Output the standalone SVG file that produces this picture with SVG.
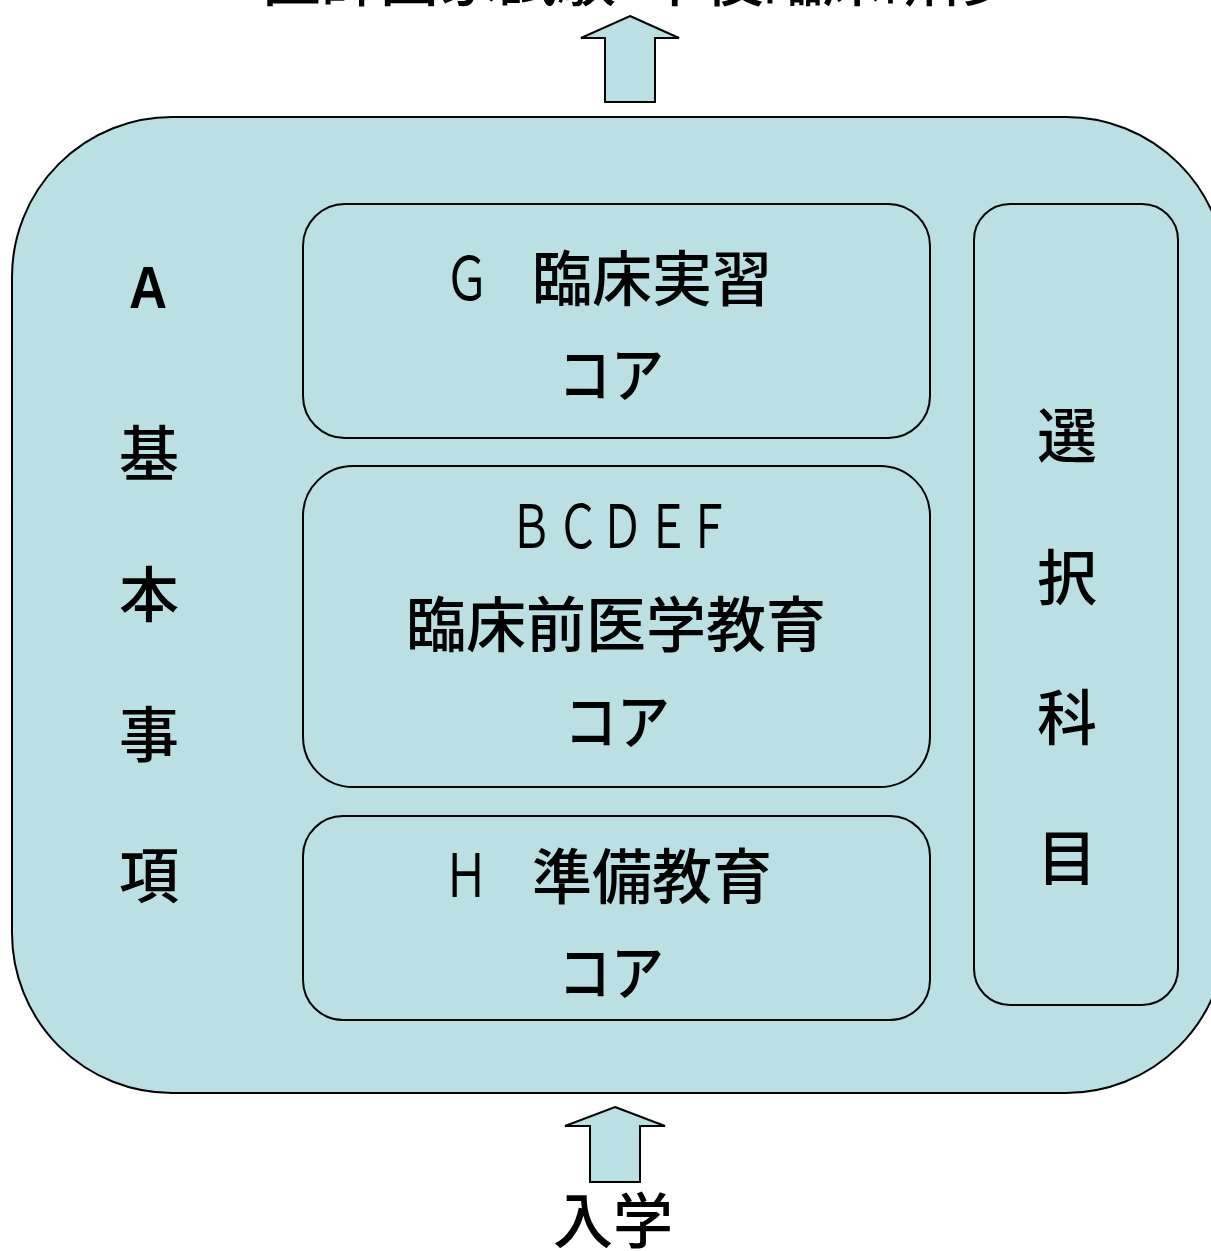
<svg xmlns="http://www.w3.org/2000/svg" width="1211" height="1251" viewBox="0 0 1211 1251">
<style>
  .box { fill: #BAE0E3; stroke: #000; stroke-width: 2; }
  .inner { fill: #BAE0E3; stroke: #000; stroke-width: 2; }
  .arrow { fill: #BAE0E3; stroke: #000; stroke-width: 2; stroke-linejoin: miter; }
  .t { font-family: "Noto Sans CJK JP", "Noto Sans", sans-serif; font-size: 60px; font-weight: 500; fill: #000; }
  .mid { text-anchor: middle; }
  .lat { font-family: "Noto Sans CJK JP", "Noto Sans", sans-serif; font-size: 60px; font-weight: 400; fill: #000; text-anchor: middle; }
  .a { font-family: "Liberation Sans", "Noto Sans CJK JP", sans-serif; font-size: 60px; font-weight: bold; fill: #000; text-anchor: middle; }
</style>
<rect width="1211" height="1251" fill="#fff"/>

<g id="top-label">
  <text class="t" x="262" y="1" style="font-size:59px">医師国家試験･卒後臨床研修</text>
</g>

<g id="outer">
  <rect class="box" x="12" y="117" width="1214" height="976" rx="160" ry="160"/>
</g>

<g id="connectors">
  <path class="arrow" d="M630,16 L679,38 L655,38 L655,102 L605,102 L605,38 L581,38 Z"/>
  <path class="arrow" d="M615,1107 L665,1126 L640,1126 L640,1182 L590,1182 L590,1126 L565,1126 Z"/>
</g>

<g id="node-A">
  <text class="a" transform="translate(148,308) scale(0.88,1)">A</text>
  <text class="t mid" x="149" y="476">基</text>
  <text class="t mid" x="149" y="617">本</text>
  <text class="t mid" x="149" y="757">事</text>
  <text class="t mid" x="149" y="898">項</text>
</g>

<g id="node-G">
  <rect class="inner" x="303" y="204" width="627" height="234" rx="42" ry="42"/>
  <text class="lat" transform="translate(467,300) scale(0.75,1)">Ｇ</text>
  <text class="t" x="532" y="301">臨床実習</text>
  <text class="t mid" transform="translate(611,397) scale(0.88,1)">コア</text>
</g>

<g id="node-BCDEF">
  <rect class="inner" x="303" y="466" width="627" height="321" rx="50" ry="50"/>
  <text class="lat" transform="translate(531,548) scale(0.72,1)">Ｂ</text>
  <text class="lat" transform="translate(578,548) scale(0.72,1)">Ｃ</text>
  <text class="lat" transform="translate(622,548) scale(0.72,1)">Ｄ</text>
  <text class="lat" transform="translate(668,548) scale(0.72,1)">Ｅ</text>
  <text class="lat" transform="translate(709,548) scale(0.72,1)">Ｆ</text>
  <text class="t mid" x="616" y="647">臨床前医学教育</text>
  <text class="t mid" transform="translate(617,744) scale(0.88,1)">コア</text>
</g>

<g id="node-H">
  <rect class="inner" x="303" y="816" width="627" height="204" rx="40" ry="40"/>
  <text class="lat" transform="translate(466,897) scale(0.75,1)">Ｈ</text>
  <text class="t" x="532" y="899">準備教育</text>
  <text class="t mid" transform="translate(611,995) scale(0.88,1)">コア</text>
</g>

<g id="node-elective">
  <rect class="inner" x="974" y="204" width="204" height="801" rx="36" ry="36"/>
  <text class="t mid" x="1067" y="458">選</text>
  <text class="t mid" x="1067" y="600">択</text>
  <text class="t mid" x="1067" y="740">科</text>
  <text class="t mid" x="1067" y="880">目</text>
</g>

<g id="entry">
  <text class="t mid" x="613" y="1243">入学</text>
</g>
</svg>
